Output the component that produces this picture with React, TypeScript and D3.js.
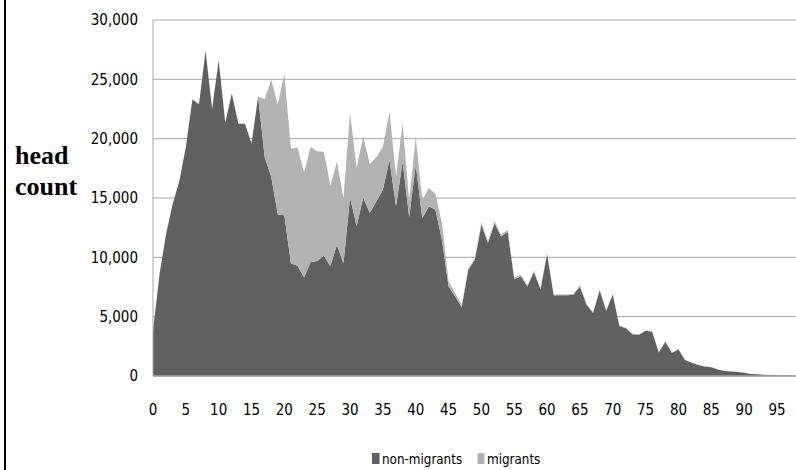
import React from "react";
import * as d3 from "d3";

const ages: number[] = d3.range(0, 99);

const nonMigrants: number[] = [
  3800, 8600, 12000, 14500, 16400, 19300, 23300, 22900, 27400, 22500,
  26600, 21350, 23800, 21250, 21250, 19600, 23550, 18450, 16800, 13600,
  13550, 9500, 9300, 8300, 9600, 9700, 10150, 9250, 11050, 9500,
  15050, 12650, 15050, 13750, 14700, 15700, 18200, 14300, 18050, 13400,
  17800, 13300, 14300, 14000, 11450, 7550, 6700, 5800, 8950, 9800,
  12750, 11200, 12850, 11750, 12150, 8150, 8400, 7550, 8750, 7300,
  10250, 6800, 6800, 6800, 6850, 7550, 6000, 5300, 7200, 5500,
  6850, 4220, 4020, 3520, 3480, 3820, 3720, 1980, 2880, 1930,
  2230, 1340, 1110, 920, 810, 745, 555, 415, 385, 335,
  275, 168, 138, 108, 84, 58, 52, 38, 28,
];

const migrants: number[] = [
  0, 0, 0, 0, 0, 0, 0, 0, 0, 0,
  0, 0, 0, 0, 0, 0, 0, 4900, 8150, 9300,
  11900, 9650, 9950, 8850, 9700, 9250, 8750, 6800, 7030, 5480,
  7140, 4860, 5170, 4100, 3730, 3600, 4070, 2530, 3230, 1400,
  2330, 1550, 1550, 1350, 1400, 420, 280, 200, 140, 140,
  200, 180, 200, 180, 170, 150, 140, 120, 110, 100,
  100, 70, 70, 70, 70, 70, 70, 70, 70, 70,
  70, 40, 40, 40, 40, 40, 40, 40, 40, 40,
  40, 10, 10, 10, 10, 10, 10, 10, 10, 10,
  10, 5, 5, 5, 5, 5, 5, 5, 5,
];

const yTicks: number[] = [0, 5000, 10000, 15000, 20000, 25000, 30000];
const xTicks: number[] = d3.range(0, 100, 5);
const seriesNames: string[] = ["non-migrants", "migrants"];
const seriesColors: string[] = ["#606060", "#b3b3b3"];
const yTitleLines: string[] = ["head", "count"];

const W = 796;
const H = 470;
const left = 153;
const right = 796.7;
const top = 20;
const bottom = 376;

export default function App() {
  const x = d3.scaleLinear().domain([0, 98]).range([left, right]);
  const y = d3.scaleLinear().domain([0, 30000]).range([bottom, top]);

  const rows = ages.map((a, i) => ({ age: a, nm: nonMigrants[i], m: migrants[i] }));
  const stacked = d3.stack<any>().keys(["nm", "m"])(rows);
  const area = d3
    .area<any>()
    .x((d) => x(d.data.age))
    .y0((d) => y(d[0]))
    .y1((d) => y(d[1]));

  const fmt = d3.format(",");
  const tickFont = "'Liberation Sans Narrow', 'DejaVu Sans Condensed', 'Open Sans', sans-serif";

  return (
    <svg
      width={W}
      height={H}
      style={{ position: "absolute", left: 0, top: 0, background: "#fff" }}
    >
      <rect x={0} y={0} width={W} height={H} fill="#fff" />
      <rect x={4} y={0} width={2} height={H} fill="#000" />
      {yTicks.map((t) => (
        <line key={t} x1={left} x2={W} y1={y(t)} y2={y(t)} stroke="#a6a6a6" strokeWidth={1} />
      ))}
      {stacked.map((s, i) => (
        <path key={s.key} d={area(s as any) || ""} fill={seriesColors[i]} />
      ))}
      <line x1={left} x2={left} y1={top} y2={bottom} stroke="#a6a6a6" strokeWidth={1} />
      <line x1={left} x2={W} y1={bottom} y2={bottom} stroke="#a6a6a6" strokeWidth={1.5} />
      {yTicks.map((t) => (
        <text
          key={t}
          x={138}
          y={y(t)}
          dy="0.36em"
          textAnchor="end"
          fontFamily={tickFont}
          fontSize={15}
          fill="#000"
        >
          {fmt(t)}
        </text>
      ))}
      {xTicks.map((t) => (
        <text
          key={t}
          x={x(t)}
          y={415}
          textAnchor="middle"
          fontFamily={tickFont}
          fontSize={15}
          fill="#000"
        >
          {t}
        </text>
      ))}
      {yTitleLines.map((l, i) => (
        <text
          key={l}
          x={15}
          y={164 + i * 31}
          fontFamily="'Liberation Serif', 'DejaVu Serif', serif"
          fontWeight="bold"
          fontSize={26}
          fill="#000"
        >
          {l}
        </text>
      ))}
      <rect x={372} y={453} width={7.5} height={11} fill={seriesColors[0]} />
      <text x={382} y={464} fontFamily={tickFont} fontSize={13.3} fill="#000">
        {seriesNames[0]}
      </text>
      <rect x={477.5} y={453} width={7} height={11} fill={seriesColors[1]} />
      <text x={487} y={464} fontFamily={tickFont} fontSize={13.3} fill="#000">
        {seriesNames[1]}
      </text>
    </svg>
  );
}
